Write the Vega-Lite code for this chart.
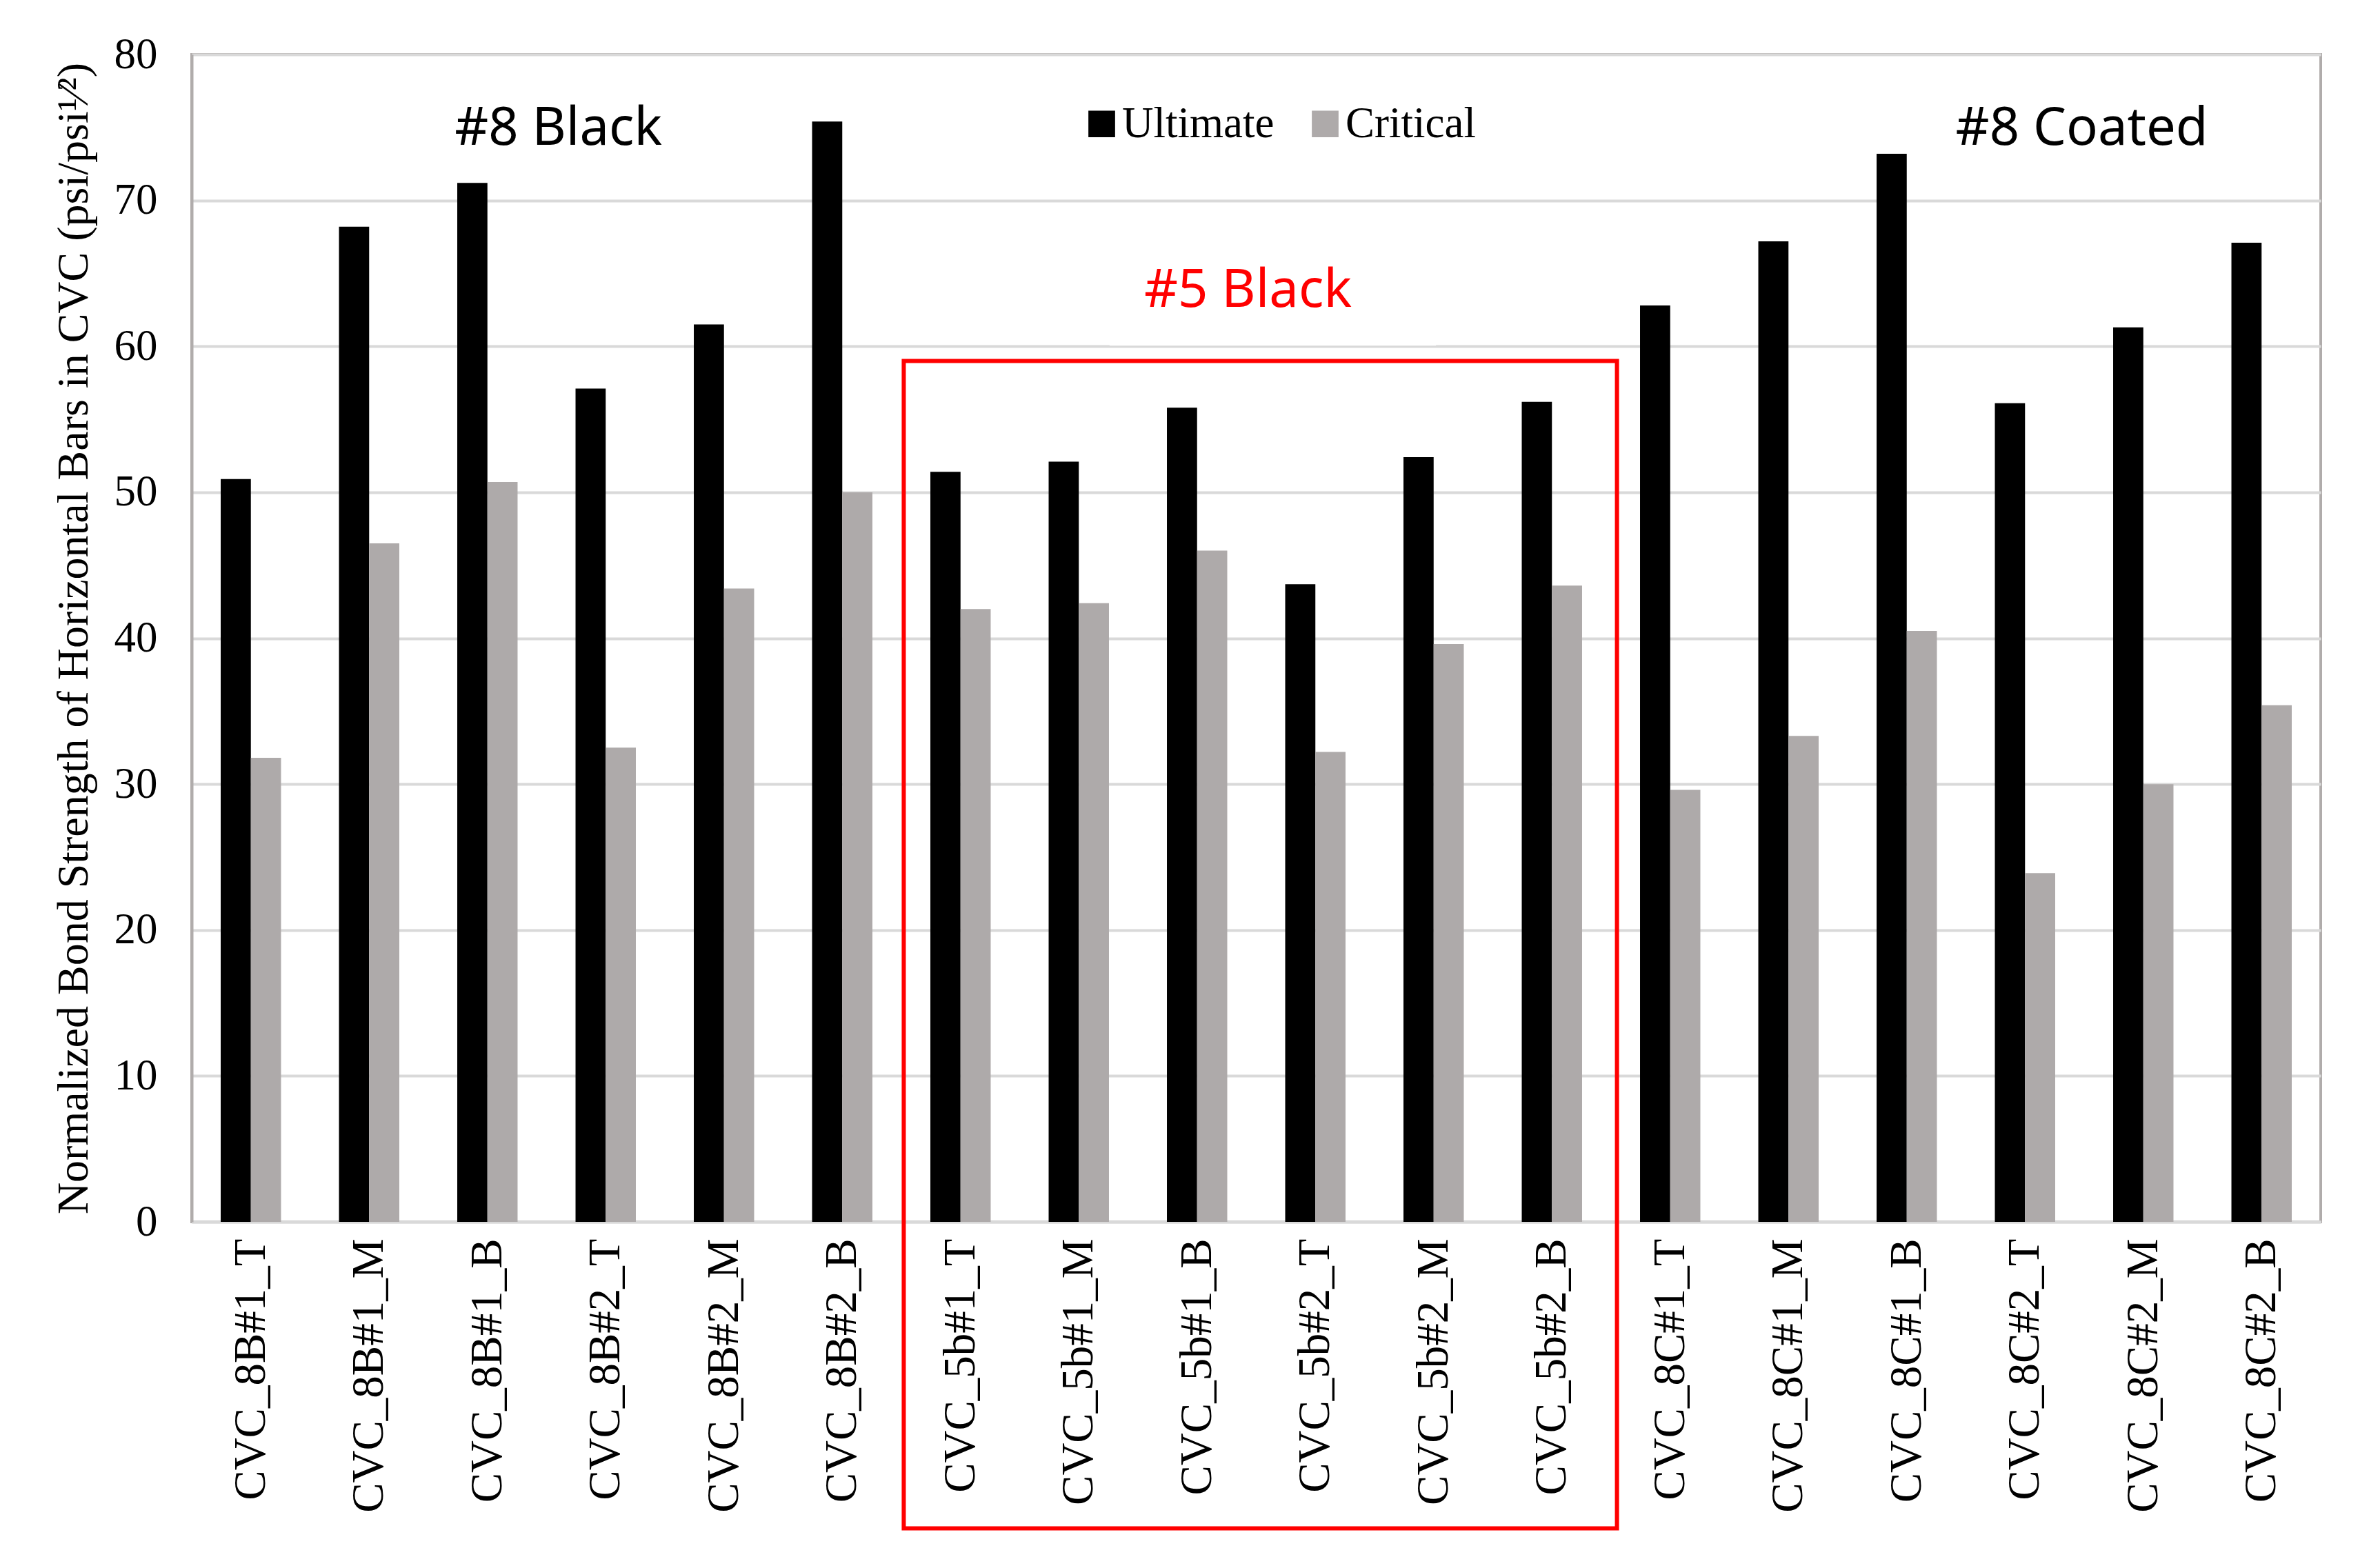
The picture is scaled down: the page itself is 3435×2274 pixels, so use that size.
{
  "$schema": "https://vega.github.io/schema/vega-lite/v6.json",
  "width": 3087,
  "height": 1693,
  "autosize": {"type": "none"},
  "padding": {"left": 278, "top": 79, "right": 70, "bottom": 502},
  "background": "white",
  "config": {
    "view": {"stroke": "#b0acab", "strokeWidth": 4},
    "font": "Liberation Serif"
  },
  "datasets": {
    "bars": [
      {"specimen": "CVC_8B#1_T", "type": "Ultimate", "value": 50.9},
      {"specimen": "CVC_8B#1_T", "type": "Critical", "value": 31.8},
      {"specimen": "CVC_8B#1_M", "type": "Ultimate", "value": 68.2},
      {"specimen": "CVC_8B#1_M", "type": "Critical", "value": 46.5},
      {"specimen": "CVC_8B#1_B", "type": "Ultimate", "value": 71.2},
      {"specimen": "CVC_8B#1_B", "type": "Critical", "value": 50.7},
      {"specimen": "CVC_8B#2_T", "type": "Ultimate", "value": 57.1},
      {"specimen": "CVC_8B#2_T", "type": "Critical", "value": 32.5},
      {"specimen": "CVC_8B#2_M", "type": "Ultimate", "value": 61.5},
      {"specimen": "CVC_8B#2_M", "type": "Critical", "value": 43.4},
      {"specimen": "CVC_8B#2_B", "type": "Ultimate", "value": 75.4},
      {"specimen": "CVC_8B#2_B", "type": "Critical", "value": 50.0},
      {"specimen": "CVC_5b#1_T", "type": "Ultimate", "value": 51.4},
      {"specimen": "CVC_5b#1_T", "type": "Critical", "value": 42.0},
      {"specimen": "CVC_5b#1_M", "type": "Ultimate", "value": 52.1},
      {"specimen": "CVC_5b#1_M", "type": "Critical", "value": 42.4},
      {"specimen": "CVC_5b#1_B", "type": "Ultimate", "value": 55.8},
      {"specimen": "CVC_5b#1_B", "type": "Critical", "value": 46.0},
      {"specimen": "CVC_5b#2_T", "type": "Ultimate", "value": 43.7},
      {"specimen": "CVC_5b#2_T", "type": "Critical", "value": 32.2},
      {"specimen": "CVC_5b#2_M", "type": "Ultimate", "value": 52.4},
      {"specimen": "CVC_5b#2_M", "type": "Critical", "value": 39.6},
      {"specimen": "CVC_5b#2_B", "type": "Ultimate", "value": 56.2},
      {"specimen": "CVC_5b#2_B", "type": "Critical", "value": 43.6},
      {"specimen": "CVC_8C#1_T", "type": "Ultimate", "value": 62.8},
      {"specimen": "CVC_8C#1_T", "type": "Critical", "value": 29.6},
      {"specimen": "CVC_8C#1_M", "type": "Ultimate", "value": 67.2},
      {"specimen": "CVC_8C#1_M", "type": "Critical", "value": 33.3},
      {"specimen": "CVC_8C#1_B", "type": "Ultimate", "value": 73.2},
      {"specimen": "CVC_8C#1_B", "type": "Critical", "value": 40.5},
      {"specimen": "CVC_8C#2_T", "type": "Ultimate", "value": 56.1},
      {"specimen": "CVC_8C#2_T", "type": "Critical", "value": 23.9},
      {"specimen": "CVC_8C#2_M", "type": "Ultimate", "value": 61.3},
      {"specimen": "CVC_8C#2_M", "type": "Critical", "value": 30.0},
      {"specimen": "CVC_8C#2_B", "type": "Ultimate", "value": 67.1},
      {"specimen": "CVC_8C#2_B", "type": "Critical", "value": 35.4}
    ],
    "labels": [
      {"label": "#8 Black", "xi": 3.1, "value": 73.8, "color": "black"},
      {"label": "#8 Coated", "xi": 15.98, "value": 73.8, "color": "black"},
      {"label": "#5 Black", "xi": 8.93, "value": 62.7, "color": "red"}
    ],
    "box": [
      {"xi": 6.02, "xi2": 12.05, "value": 59.0, "value2": -21.0}
    ],
    "cover": [
      {"xi": 7.76, "xi2": 10.52, "value": 60.05, "value2": 68.0}
    ]
  },
  "encoding": {
    "y": {
      "field": "value",
      "type": "quantitative",
      "scale": {"domain": [0, 80], "nice": false, "zero": true},
      "axis": {
        "title": "Normalized Bond Strength of  Horizontal Bars in CVC (psi/psi¹⁄²)",
        "values": [0, 10, 20, 30, 40, 50, 60, 70, 80],
        "grid": true,
        "gridColor": "#d9d9d9",
        "gridWidth": 4,
        "domainColor": "#b0acab",
        "domainWidth": 4,
        "ticks": false,
        "tickSize": 0,
        "labelPadding": 50,
        "labelFont": "Liberation Serif",
        "labelFontSize": 63,
        "labelColor": "black",
        "titleFont": "Liberation Serif",
        "titleFontSize": 64,
        "titleFontWeight": "normal",
        "titleColor": "black",
        "titlePadding": 26,
        "titleLimit": 0
      }
    }
  },
  "layer": [
    {
      "data": {"name": "cover"},
      "mark": {"type": "rect", "fill": "white", "stroke": null},
      "encoding": {
        "x": {"field": "xi", "type": "quantitative", "scale": {"domain": [0, 18], "nice": false, "zero": false}, "axis": null},
        "x2": {"field": "xi2"},
        "y2": {"field": "value2"}
      }
    },
    {
      "data": {"name": "bars"},
      "mark": {"type": "bar"},
      "encoding": {
        "x": {
          "field": "specimen",
          "type": "nominal",
          "sort": null,
          "scale": {"paddingInner": 0.49, "paddingOuter": 0.245},
          "axis": {
            "title": null,
            "labelAngle": -90,
            "labelFont": "Liberation Serif",
            "labelFontSize": 65,
            "labelColor": "black",
            "labelPadding": 24,
            "labelLimit": 0,
            "ticks": false,
            "domainColor": "#d9d9d9",
            "domainWidth": 4,
            "grid": false
          }
        },
        "xOffset": {"field": "type", "type": "nominal", "scale": {"domain": ["Ultimate", "Critical"], "paddingInner": 0, "paddingOuter": 0}},
        "color": {
          "field": "type",
          "type": "nominal",
          "scale": {"domain": ["Ultimate", "Critical"], "range": ["#000000", "#AEAAAA"]},
          "legend": {
            "title": null,
            "orient": "none",
            "direction": "horizontal",
            "legendX": 1288,
            "legendY": 69,
            "padding": 0,
            "symbolType": "square",
            "symbolSize": 1500,
            "symbolStrokeWidth": 0,
            "labelFont": "Liberation Serif",
            "labelFontSize": 63,
            "labelColor": "black",
            "labelOffset": -2,
            "labelLimit": 0,
            "columnPadding": 42
          }
        }
      }
    },
    {
      "data": {"name": "box"},
      "mark": {"type": "rect", "fill": null, "filled": false, "stroke": "#ff0000", "strokeWidth": 6, "clip": false},
      "encoding": {
        "x": {"field": "xi", "type": "quantitative", "scale": {"domain": [0, 18], "nice": false, "zero": false}, "axis": null},
        "x2": {"field": "xi2"},
        "y2": {"field": "value2"}
      }
    },
    {
      "data": {"name": "labels"},
      "mark": {"type": "text", "font": "Noto Sans", "fontSize": 76, "align": "center", "baseline": "alphabetic"},
      "encoding": {
        "x": {"field": "xi", "type": "quantitative", "scale": {"domain": [0, 18], "nice": false, "zero": false}, "axis": null},
        "text": {"field": "label"},
        "color": {"field": "color", "type": "nominal", "scale": null, "legend": null}
      }
    }
  ],
  "resolve": {"scale": {"x": "independent", "color": "independent"}}
}
